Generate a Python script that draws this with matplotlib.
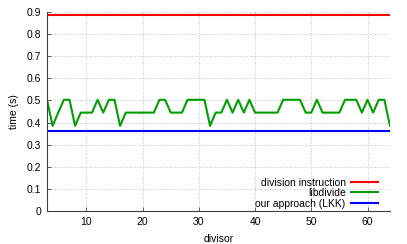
import matplotlib
matplotlib.use("Agg")
import matplotlib.pyplot as plt
import numpy as np

divisors = list(range(3, 65))
H, M, L = 0.503, 0.445, 0.385
libdivide = [H, L, M, H, H, L, M, M, M, H, M, H, H, L, M, M, M, M, M, M,
             H, H, M, M, M, H, H, H, H, L, M, M, H, M, H, M, H, M, M, M,
             M, M, H, H, H, H, M, M, H, M, M, M, M, H, H, H, M, H, M, H,
             H, L]
division_instruction = [0.888] * len(divisors)
our_approach = [0.361] * len(divisors)

plt.rcParams['font.family'] = ['Liberation Sans', 'DejaVu Sans']
fig = plt.figure(figsize=(4.07, 2.44), dpi=100)
ax = fig.add_axes([47/407, 1-211/244, (390-47)/407, (211-12)/244])

ax.plot(divisors, division_instruction, color='#ff0000', lw=1.5, label='division instruction')
ax.plot(divisors, libdivide, color='#00a000', lw=1.5, label='libdivide')
ax.plot(divisors, our_approach, color='#0000ff', lw=1.5, label='our approach (LKK)')

ax.set_xlim(3, 64)
ax.set_ylim(0, 0.9)
ax.set_xticks([10, 20, 30, 40, 50, 60])
ax.set_yticks(np.round(np.arange(0, 0.91, 0.1), 1))
ax.set_yticklabels(['0'] + [f'{v:.1f}' for v in np.arange(0.1, 0.91, 0.1)])
ax.grid(True, color='#b0b0b0', linestyle=(0, (1, 2)), linewidth=0.6)
for s in ['top', 'right']:
    ax.spines[s].set_visible(False)
for s in ['left', 'bottom']:
    ax.spines[s].set_color('#404040')
    ax.spines[s].set_linewidth(0.8)
ax.tick_params(direction='in', length=3, width=0.6, color='#404040', labelsize=7.5, pad=4)
ax.set_xlabel('divisor', fontsize=7.5, labelpad=5)
ax.set_ylabel('time (s)', fontsize=7.5, labelpad=6)

leg = ax.legend(loc='lower right', bbox_to_anchor=((378-47)/343, 0.012), bbox_transform=ax.transAxes,
                frameon=False, markerfirst=False, fontsize=7.5, handlelength=2.6,
                labelspacing=0.05, handletextpad=0.5, borderaxespad=0, borderpad=0)
for col in leg._legend_handle_box.get_children():
    col.align = 'right'
fig.savefig('out.png', dpi=100)
